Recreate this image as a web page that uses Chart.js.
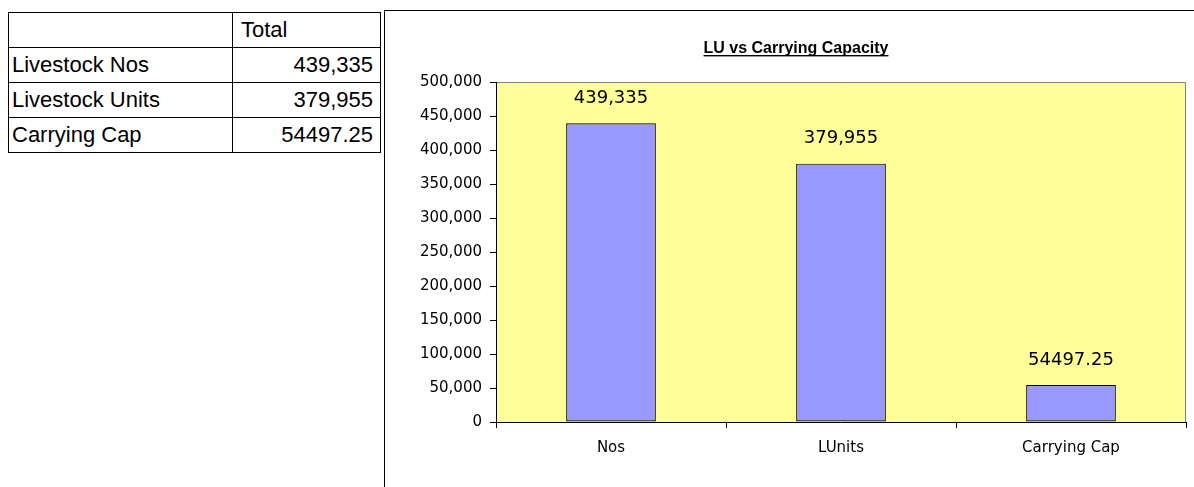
<!DOCTYPE html>
<html>
<head>
<meta charset="utf-8">
<script src="https://cdn.jsdelivr.net/npm/chart.js@4.4.1/dist/chart.umd.min.js"></script>
<style>
  html, body { margin: 0; padding: 0; background: #fff; overflow: hidden; width: 1194px; height: 487px; }
  #tbl { position: absolute; left: 8px; top: 12px; border-collapse: collapse; font-family: "Liberation Sans", Arial, sans-serif; font-size: 22px; color: #000; }
  #tbl td { border: 1px solid #000; height: 35px; padding: 0 7px 0 3px; line-height: 22px; box-sizing: border-box; }
  #tbl td.name { width: 224px; }
  #tbl td.val { width: 148px; text-align: right; }
  #tbl td.hdr { text-align: left; padding-left: 8px; }
  #box { position: absolute; left: 384px; top: 10px; width: 830px; height: 490px; border-left: 1px solid #000; border-top: 1px solid #000; }
  #wrap { position: absolute; left: 0; top: 0; width: 822px; height: 476px; }
</style>
</head>
<body>
<table id="tbl"></table>
<div id="box"><div id="wrap"><canvas id="c"></canvas></div></div>
<script>
// ---- data ----
const tableHeader = "Total";
const tableRows = ["Livestock Nos", "Livestock Units", "Carrying Cap"];
const tableValues = ["439,335", "379,955", "54497.25"];

const categories = ["Nos", "LUnits", "Carrying Cap"];
const values = [439335, 379955, 54497.25];
const valueLabels = ["439,335", "379,955", "54497.25"];

const chartTitle = "LU vs Carrying Capacity";
const yMin = 0, yMax = 500000, yStep = 50000;

// ---- table ----
const tbl = document.getElementById('tbl');
let html = '<tr><td class="name"></td><td class="hdr">' + tableHeader + '</td></tr>';
tableRows.forEach((r, i) => {
  html += '<tr><td class="name">' + r + '</td><td class="val">' + tableValues[i] + '</td></tr>';
});
tbl.innerHTML = html;

// ---- chart ----
const chartFont = '"DejaVu Sans", Verdana, sans-serif';
Chart.defaults.font.family = chartFont;
Chart.defaults.color = '#000';

const plotBg = {
  id: 'plotBg',
  beforeDraw(chart) {
    const { ctx, chartArea: a } = chart;
    ctx.save();
    ctx.fillStyle = '#FFFF99';
    ctx.fillRect(a.left, a.top, a.right - a.left, a.bottom - a.top);
    ctx.strokeStyle = '#808080';
    ctx.lineWidth = 1;
    ctx.beginPath();
    ctx.moveTo(a.left, a.top + 0.5);
    ctx.lineTo(a.right - 0.5, a.top + 0.5);
    ctx.lineTo(a.right - 0.5, a.bottom);
    ctx.stroke();
    ctx.restore();
  }
};

const titlePlugin = {
  id: 'ulTitle',
  afterDraw(chart) {
    const ctx = chart.ctx;
    ctx.save();
    ctx.font = 'bold 16px "Liberation Sans", Arial, sans-serif';
    ctx.fillStyle = '#000';
    ctx.textAlign = 'center';
    ctx.textBaseline = 'alphabetic';
    const cx = chart.width / 2;
    const by = 42;
    ctx.fillText(chartTitle, cx, by);
    const w = ctx.measureText(chartTitle).width;
    ctx.fillRect(cx - w / 2, by + 2, w, 1.4);
    ctx.restore();
  }
};

const valLabels = {
  id: 'valLabels',
  afterDatasetsDraw(chart) {
    const ctx = chart.ctx;
    const meta = chart.getDatasetMeta(0);
    ctx.save();
    ctx.font = '18px ' + chartFont;
    ctx.fillStyle = '#000';
    ctx.textAlign = 'center';
    ctx.textBaseline = 'middle';
    meta.data.forEach((bar, i) => {
      ctx.fillText(valueLabels[i], bar.x, bar.y - 25);
    });
    ctx.restore();
  }
};

new Chart(document.getElementById('c'), {
  type: 'bar',
  data: {
    labels: categories,
    datasets: [{
      data: values,
      backgroundColor: '#9999FF',
      borderColor: '#000',
      borderWidth: 1.2,
      borderSkipped: false,
      categoryPercentage: 1.0,
      barPercentage: 0.39
    }]
  },
  options: {
    responsive: true,
    maintainAspectRatio: false,
    animation: false,
    layout: { padding: { left: 0, top: 71, right: 21, bottom: 0 } },
    plugins: { legend: { display: false }, title: { display: false }, tooltip: { enabled: false } },
    scales: {
      x: {
        grid: { display: true, offset: true, drawOnChartArea: false, color: '#000', tickLength: 6, tickWidth: 1 },
        border: { display: true, color: '#000', width: 1 },
        ticks: { font: { size: 15 }, color: '#000', padding: 11, maxRotation: 0 },
        afterFit(s) { s.height = 65; }
      },
      y: {
        min: yMin, max: yMax,
        grid: { display: true, drawOnChartArea: false, color: '#000', tickLength: 6, tickWidth: 1 },
        border: { display: true, color: '#000', width: 1 },
        ticks: {
          stepSize: yStep, font: { size: 15 }, color: '#000', padding: 8,
          callback: v => v.toLocaleString('en-US')
        },
        afterFit(s) { s.width = 111; }
      }
    }
  },
  plugins: [plotBg, titlePlugin, valLabels]
});
</script>
</body>
</html>
